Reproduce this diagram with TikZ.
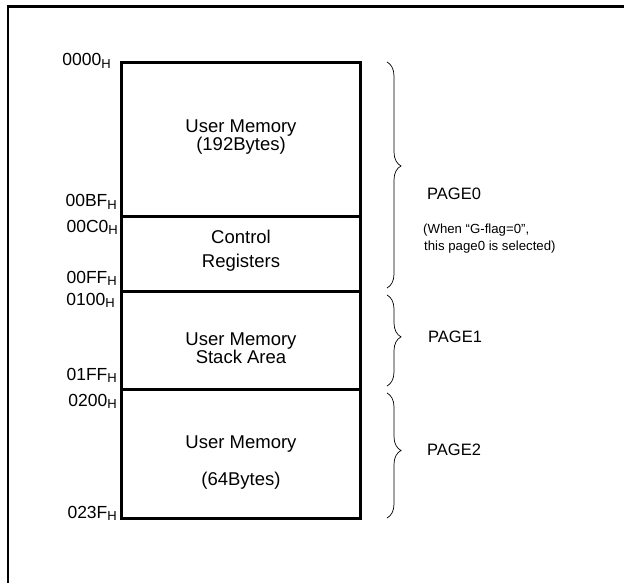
\documentclass[tikz,border=0pt]{standalone}
\usepackage{fontspec}
\setmainfont{Liberation Sans}
\usetikzlibrary{decorations.pathreplacing}

\newcommand{\addrH}[1]{#1\raisebox{-2.5pt}{\fontsize{13}{13}\selectfont H}}

\begin{document}
\begin{tikzpicture}[x=1pt,y=-1pt,
  addr/.style={anchor=base east,inner sep=0pt,font=\fontsize{17.5}{19}\selectfont},
  celltext/.style={anchor=base,inner sep=0pt,font=\fontsize{18.5}{20}\selectfont},
  pagelabel/.style={anchor=base west,inner sep=0pt,font=\fontsize{16.5}{18}\selectfont},
  note/.style={anchor=base west,inner sep=0pt,font=\fontsize{13.2}{15}\selectfont},
  pagebrace/.style={decorate,decoration={brace,amplitude=14pt,aspect=0.46},line width=0.7pt}]
\useasboundingbox (0,0) rectangle (624,583);

% outer frame
\draw[line width=2.5pt] (8,583) -- (8,6.5) -- (624,6.5);

% memory map
\draw[line width=3pt] (121,63) rectangle (360,518);
\draw[line width=3pt] (121,216) -- (360,216);
\draw[line width=3pt] (121,291) -- (360,291);
\draw[line width=3pt] (121,389) -- (360,389);

% addresses
\node[addr] (a0000) at (111,66) {\addrH{0000}};
\node[addr] (a00BF) at (117,207) {\addrH{00BF}};
\node[addr] (a00C0) at (118,232) {\addrH{00C0}};
\node[addr] (a00FF) at (117,283) {\addrH{00FF}};
\node[addr] (a0100) at (115,305) {\addrH{0100}};
\node[addr] (a01FF) at (117,380) {\addrH{01FF}};
\node[addr] (a0200) at (117,406) {\addrH{0200}};
\node[addr] (a023F) at (117,518) {\addrH{023F}};

% cell contents
\node[celltext] (user0) at (241,133) {User Memory};
\node[celltext] (bytes0) at (241,150) {(192Bytes)};
\node[celltext] (ctrl) at (241,243) {Control};
\node[celltext] (regs) at (241,267) {Registers};
\node[celltext] (user1) at (241,345) {User Memory};
\node[celltext] (stack) at (241,363) {Stack Area};
\node[celltext] (user2) at (241,448) {User Memory};
\node[celltext] (bytes2) at (241,485) {(64Bytes)};

% pages
\draw[pagebrace] (387,62) -- (387,288);
\draw[pagebrace] (387,295) -- (387,386);
\draw[pagebrace] (387,393) -- (387,518);

\node[pagelabel] (page0) at (427,200) {PAGE0};
\node[note] (when) at (423,233) {(When “G-flag=0”,};
\node[note] (sel) at (424,250) {this page0 is selected)};
\node[pagelabel] (page1) at (428,342) {PAGE1};
\node[pagelabel] (page2) at (427,455) {PAGE2};
\end{tikzpicture}
\end{document}
